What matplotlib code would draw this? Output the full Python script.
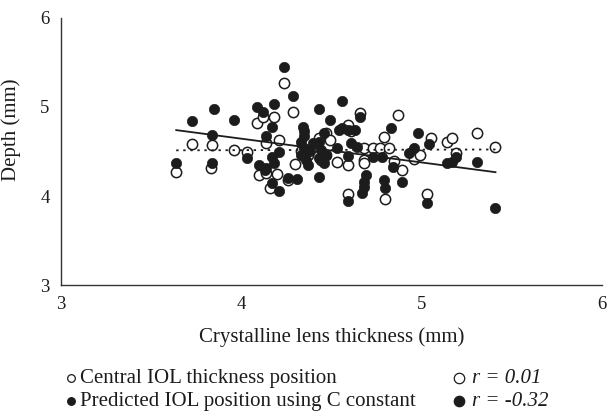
import numpy as np
import matplotlib
matplotlib.use("Agg")
import matplotlib.pyplot as plt
from matplotlib.lines import Line2D

plt.rcParams['font.family'] = ['Liberation Serif', 'DejaVu Serif']

# Central IOL thickness position (open circles)
lens_central = [3.64, 3.73, 3.83, 3.84, 3.96, 4.03, 4.09, 4.10, 4.12, 4.14,
                4.14, 4.16, 4.18, 4.20, 4.21, 4.24, 4.26, 4.29, 4.30, 4.36,
                4.37, 4.43, 4.44, 4.47, 4.47, 4.49, 4.53, 4.59, 4.59, 4.61,
                4.66, 4.68, 4.68, 4.68, 4.73, 4.77, 4.79, 4.82, 4.85, 4.87,
                4.89, 4.96, 4.99, 5.05, 5.14, 5.17, 5.19, 5.31, 5.41, 4.59,
                4.80, 5.03, 4.33, 4.40]
depth_central = [4.27, 4.58, 4.31, 4.57, 4.52, 4.49, 4.82, 4.24, 4.89, 4.60,
                 4.26, 4.09, 4.89, 4.25, 4.63, 5.27, 4.18, 4.94, 4.36, 4.52,
                 4.46, 4.65, 4.40, 4.71, 4.46, 4.63, 4.38, 4.35, 4.80, 4.73,
                 4.93, 4.54, 4.40, 4.37, 4.54, 4.54, 4.66, 4.54, 4.39, 4.91,
                 4.29, 4.42, 4.46, 4.65, 4.61, 4.65, 4.48, 4.71, 4.55, 4.02,
                 3.97, 4.02, 4.50, 4.55]

# Predicted IOL position using C constant (filled circles)
lens_pred = [3.64, 3.73, 3.84, 3.84, 3.85, 3.96, 4.03, 4.09, 4.10, 4.12,
             4.13, 4.14, 4.17, 4.17, 4.17, 4.18, 4.18, 4.21, 4.21, 4.24,
             4.26, 4.29, 4.31, 4.33, 4.33, 4.35, 4.35, 4.35, 4.36, 4.37,
             4.34, 4.43, 4.43, 4.43, 4.43, 4.44, 4.46, 4.46, 4.47, 4.49,
             4.54, 4.56, 4.56, 4.59, 4.63, 4.53, 4.61, 4.64, 4.59, 4.66,
             4.59, 4.67, 4.68, 4.68, 4.69, 4.73, 4.78, 4.79, 4.80, 4.83,
             4.84, 4.89, 4.93, 4.96, 4.98, 5.04, 5.03, 5.14, 5.17, 5.19,
             5.31, 5.41, 4.14, 4.40, 4.38]
depth_pred = [4.37, 4.84, 4.69, 4.37, 4.98, 4.85, 4.43, 5.00, 4.35, 4.94,
              4.29, 4.67, 4.78, 4.44, 4.15, 5.03, 4.37, 4.49, 4.06, 5.45,
              4.20, 5.12, 4.19, 4.61, 4.46, 4.73, 4.67, 4.54, 4.40, 4.35,
              4.78, 4.98, 4.61, 4.43, 4.21, 4.52, 4.71, 4.37, 4.46, 4.85,
              4.74, 5.07, 4.76, 4.74, 4.74, 4.54, 4.60, 4.55, 4.45, 4.89,
              3.94, 4.03, 4.10, 4.16, 4.24, 4.44, 4.44, 4.18, 4.09, 4.76,
              4.33, 4.16, 4.48, 4.54, 4.71, 4.58, 3.92, 4.37, 4.38, 4.44,
              4.38, 3.87, 4.31, 4.60, 4.50]

r_labels = ['r = 0.01', 'r = -0.32']
series_names = ['Central IOL thickness position',
                'Predicted IOL position using C constant']

ink = '#1c1c1c'
fs = 15

fig = plt.figure(figsize=(6.08, 4.15), dpi=100)
ax = fig.add_axes([0.100, 0.313, 0.890, 0.644])

ax.scatter(lens_central, depth_central, s=55, facecolor='white',
           edgecolor=ink, linewidth=1.1, zorder=3)
ax.scatter(lens_pred, depth_pred, s=55, facecolor=ink,
           edgecolor=ink, linewidth=0.5, zorder=4)

# least-squares trend lines for each series
for xs, ys, style in [(lens_central, depth_central, (0, (1.3, 2.6))),
                      (lens_pred, depth_pred, '-')]:
    xs = np.asarray(xs)
    k, b = np.polyfit(xs, ys, 1)
    xl = np.array([xs.min(), xs.max()])
    ax.plot(xl, k * xl + b, color=ink, lw=1.3, ls=style, zorder=5)

ax.set_xlim(3, 6)
ax.set_ylim(3, 6)
ax.set_xticks([3, 4, 5, 6])
ax.set_yticks([3, 4, 5, 6])
ax.tick_params(length=0, labelsize=13.5, colors=ink)
ax.tick_params(axis='y', pad=8)
ax.tick_params(axis='x', pad=8)
for side in ['top', 'right']:
    ax.spines[side].set_visible(False)
for side in ['left', 'bottom']:
    ax.spines[side].set_color('#333333')
    ax.spines[side].set_linewidth(1.0)

ax.set_xlabel('Crystalline lens thickness (mm)', fontsize=fs, color=ink,
              labelpad=10)
ax.set_ylabel('Depth (mm)', fontsize=fs, color=ink)
ax.yaxis.set_label_coords(-0.074, 0.58)

# legend block under the axis
rows_y = [1 - 378 / 415, 1 - 401 / 415]
for yy, fill in zip(rows_y, ['white', ink]):
    fig.add_artist(Line2D([71 / 608], [yy], marker='o', ms=5.5,
                          mfc=fill, mec=ink, mew=0.9, ls='none',
                          transform=fig.transFigure))
    fig.add_artist(Line2D([459 / 608], [yy], marker='o', ms=7.5,
                          mfc=fill, mec=ink, mew=0.9, ls='none',
                          transform=fig.transFigure))
for yy, name in zip(rows_y, series_names):
    fig.text(80 / 608, yy, name, fontsize=fs, color=ink, va='center')
for yy, lab in zip(rows_y, r_labels):
    fig.text(472 / 608, yy, lab, fontsize=fs, color=ink, va='center',
             style='italic')

fig.savefig('out.png', dpi=100)
